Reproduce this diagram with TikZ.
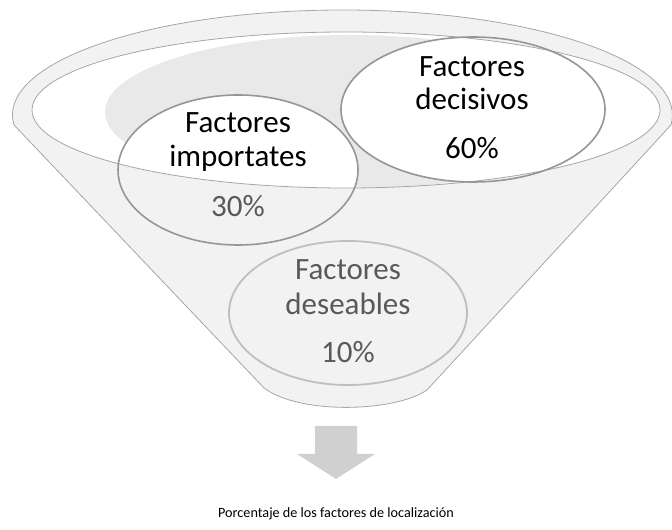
\documentclass[tikz,border=0pt]{standalone}
\usepackage{fontspec}
\setmainfont{Carlito}
\definecolor{funfill}{HTML}{F2F2F2}
\definecolor{funline}{HTML}{A6A6A6}
\definecolor{lidshadow}{HTML}{E9E9E9}
\definecolor{ringdark}{HTML}{969696}
\definecolor{ringlight}{HTML}{BFBFBF}
\definecolor{txtgray}{HTML}{595959}
\definecolor{arrowgray}{HTML}{D0D0D0}
\begin{document}
\begin{tikzpicture}[x=1pt,y=1pt,
  funnel/.style={fill=funfill,draw=funline,line width=0.8pt,line join=round},
  lid/.style={draw=funline,line width=0.8pt},
  ringA/.style={draw=ringdark,line width=1.6pt},
  ringB/.style={draw=ringlight,line width=1.8pt},
  big/.style={font=\fontsize{31}{34}\selectfont,inner sep=0pt,anchor=base},
  captext/.style={font=\fontsize{14.2}{17}\selectfont,inner sep=0pt,anchor=base},
  blockarrow/.style={fill=arrowgray,draw=none}]
\useasboundingbox (0,0) rectangle (672,530);
% funnel body
\path[funnel] (14,405) arc[start angle=185.47, end angle=-5.47, x radius=330, y radius=105]
  -- (427,140) .. controls (395,118) and (300,115) .. (264,142) -- cycle;
% inner lid
\fill[white] (346,420) ellipse[x radius=314, y radius=78];
\begin{scope}
  \clip (346,420) ellipse[x radius=314, y radius=78];
  \fill[lidshadow] (350,418) ellipse[x radius=245, y radius=77];
  \fill[white] (238,360) ellipse[x radius=120, y radius=75];
  \fill[white] (473,420.5) ellipse[x radius=132, y radius=72.5];
\end{scope}
\draw[lid] (346,420) ellipse[x radius=314, y radius=78];
% circles
\draw[ringB] (348,217) ellipse[x radius=119, y radius=72];
\draw[ringA] (238,360) ellipse[x radius=120, y radius=75];
\draw[ringA] (473,420.5) ellipse[x radius=132, y radius=72.5];
% texts
\node[big] (dec1) at (472,453.3) {Factores};
\node[big] (dec2) at (472,420) {decisivos};
\node[big] (dec3) at (472,371) {60\%};
\node[big] (imp1) at (238,397) {Factores};
\node[big] (imp2) at (238,363) {importates};
\node[big,text=txtgray] (imp3) at (238,313) {30\%};
\node[big,text=txtgray] (des1) at (348,250) {Factores};
\node[big,text=txtgray] (des2) at (348,215) {deseables};
\node[big,text=txtgray] (des3) at (348,167) {10\%};
% arrow
\path[blockarrow] (315,104) -- (357,104) -- (357,76) -- (375,76) -- (336,51) -- (297,76) -- (315,76) -- cycle;
\node[captext] (caption) at (336,12) {Porcentaje de los factores de localización};
\end{tikzpicture}
\end{document}
